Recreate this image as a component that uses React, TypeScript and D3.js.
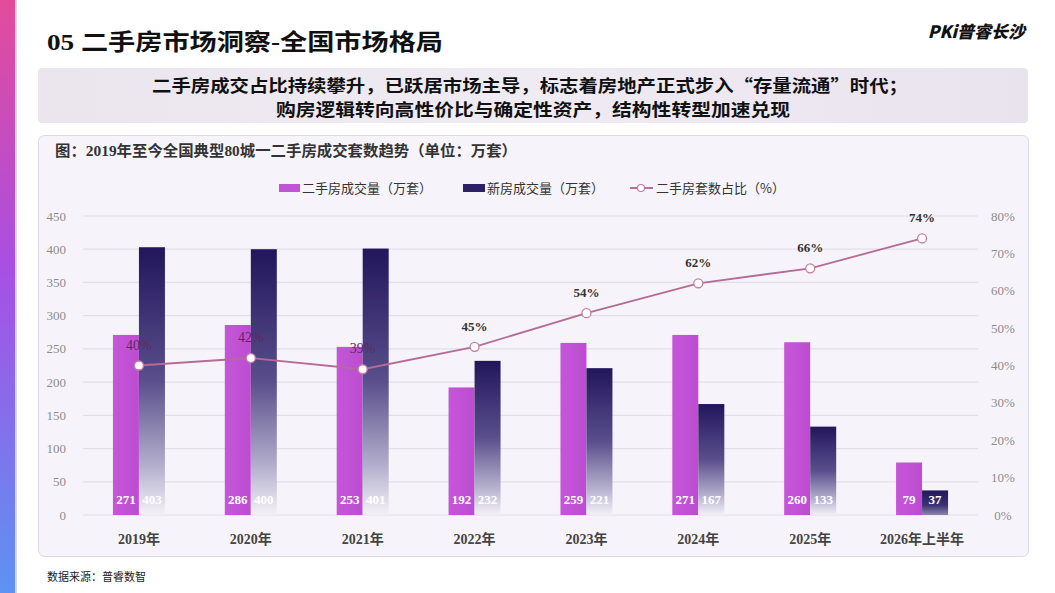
import React from "react";
import * as d3 from "d3";

const years = ["2019年", "2020年", "2021年", "2022年", "2023年", "2024年", "2025年", "2026年上半年"];
const secondHand = [271, 286, 253, 192, 259, 271, 260, 79];
const newHouse = [403, 400, 401, 232, 221, 167, 133, 37];
const ratio = [40, 42, 39, 45, 54, 62, 66, 74];
const leftTicks = [0, 50, 100, 150, 200, 250, 300, 350, 400, 450];
const rightTicks = [0, 10, 20, 30, 40, 50, 60, 70, 80];
const legendLabels = ["二手房成交量（万套）", "新房成交量（万套）", "二手房套数占比（%）"];

const W = 1055;
const H = 593;
const plot = { left: 83, right: 978, top: 216, bottom: 515 };
const SERIF = "'Liberation Serif', 'DejaVu Serif', 'Noto Sans CJK SC', serif";
const CJK = "'Noto Sans CJK SC', 'Noto Sans', sans-serif";
const MIX = "'Liberation Serif', 'Noto Sans CJK SC', serif";

export default function App() {
  const x = d3.scaleBand<string>().domain(years).range([plot.left, plot.right]).paddingInner(0).paddingOuter(0);
  const yL = d3.scaleLinear().domain([0, 450]).range([plot.bottom, plot.top]);
  const yR = d3.scaleLinear().domain([0, 80]).range([plot.bottom, plot.top]);
  const barW = 26;
  const cx = (c: string) => (x(c) as number) + x.bandwidth() / 2;
  const line = d3
    .line<number>()
    .x((_, i) => cx(years[i]))
    .y((v) => yR(v));

  return (
    <svg width={W} height={H} style={{ position: "absolute", left: 0, top: 0 }} xmlns="http://www.w3.org/2000/svg">
      <defs>
        <linearGradient id="stripe" x1="0" y1="0" x2="0" y2="1">
          <stop offset="0" stopColor="#e34b9a" />
          <stop offset="0.45" stopColor="#a84fe3" />
          <stop offset="1" stopColor="#5d93f2" />
        </linearGradient>
        <linearGradient id="band" x1="0" y1="0" x2="1" y2="0">
          <stop offset="0" stopColor="#ebe6ee" />
          <stop offset="0.5" stopColor="#efebf2" />
          <stop offset="1" stopColor="#e9e3ee" />
        </linearGradient>
        <linearGradient id="newGrad" x1="0" y1="0" x2="0" y2="1">
          <stop offset="0" stopColor="#22165c" />
          <stop offset="0.5" stopColor="#5a4f8c" />
          <stop offset="0.82" stopColor="#b5b0cd" />
          <stop offset="1" stopColor="#f3f1f7" />
        </linearGradient>
        <linearGradient id="newGradLast" x1="0" y1="0" x2="0" y2="1">
          <stop offset="0" stopColor="#22175c" />
          <stop offset="0.6" stopColor="#3c3174" />
          <stop offset="1" stopColor="#8d86ad" />
        </linearGradient>
        <linearGradient id="purpleGrad" x1="0" y1="0" x2="1" y2="0">
          <stop offset="0" stopColor="#c556d8" />
          <stop offset="1" stopColor="#bc4dd1" />
        </linearGradient>
      </defs>

      <rect x={0} y={0} width={W} height={H} fill="#ffffff" />
      <rect x={0} y={0} width={15} height={H} fill="url(#stripe)" />
      <rect x={15} y={0} width={2} height={H} fill="#d8d6dc" />

      {/* Title */}
      <text x={47} y={50} fontFamily={MIX} fontWeight={700} fontSize={23} fill="#111" textLength={396} lengthAdjust="spacingAndGlyphs">
        05 二手房市场洞察-全国市场格局
      </text>
      <text x={1025} y={38} textAnchor="end" fontFamily={CJK} fontWeight={900} fontStyle="italic" fontSize={17} fill="#111">
        PKi普睿长沙
      </text>

      {/* Header band */}
      <rect x={38} y={68} width={990} height={55} rx={4} fill="url(#band)" />
      <text x={530} y={92} textAnchor="middle" fontFamily={CJK} fontWeight={700} fontSize={17.5} fill="#111" textLength={756} lengthAdjust="spacingAndGlyphs">
        二手房成交占比持续攀升，已跃居市场主导，标志着房地产正式步入“存量流通”时代；
      </text>
      <text x={533} y={116} textAnchor="middle" fontFamily={CJK} fontWeight={700} fontSize={17.5} fill="#111" textLength={514} lengthAdjust="spacingAndGlyphs">
        购房逻辑转向高性价比与确定性资产，结构性转型加速兑现
      </text>

      {/* Chart panel */}
      <rect x={38.5} y={135.5} width={990} height={421} rx={6} fill="#f6f4fa" stroke="#dcdae2" />
      <text x={55} y={156} fontFamily={MIX} fontWeight={700} fontSize={15} fill="#333" textLength={462} lengthAdjust="spacingAndGlyphs">
        图：2019年至今全国典型80城一二手房成交套数趋势（单位：万套）
      </text>

      {/* Legend */}
      <g fontFamily={CJK} fontSize={13} fill="#333">
        <rect x={279} y={184} width={21} height={8} fill="#c054d4" />
        <text x={302} y={193}>{legendLabels[0]}</text>
        <rect x={463} y={184} width={22} height={8} fill="#2c2166" />
        <text x={487} y={193}>{legendLabels[1]}</text>
        <line x1={630} y1={188} x2={653} y2={188} stroke="#b86f98" strokeWidth={2} />
        <circle cx={641} cy={188} r={3.5} fill="#fff" stroke="#c07aa2" strokeWidth={1.2} />
        <text x={656} y={193}>{legendLabels[2]}</text>
      </g>

      {/* Gridlines */}
      {leftTicks.map((t) => (
        <line key={"g" + t} x1={plot.left} x2={plot.right} y1={yL(t)} y2={yL(t)} stroke="#e1dfe7" strokeWidth={1.2} />
      ))}

      {/* Left axis labels */}
      {leftTicks.map((t) => (
        <text key={"l" + t} x={66} y={yL(t) + 4.5} textAnchor="end" fontFamily={SERIF} fontSize={13} fill="#8c8c8c">
          {t}
        </text>
      ))}
      {/* Right axis labels */}
      {rightTicks.map((t) => (
        <text key={"r" + t} x={1003} y={yR(t) + 4.5} textAnchor="middle" fontFamily={SERIF} fontSize={13} fill="#8c8c8c">
          {t}%
        </text>
      ))}

      {/* Bars */}
      {years.map((c, i) => (
        <g key={"b" + c}>
          <rect x={cx(c) - barW} y={yL(secondHand[i])} width={barW} height={yL(0) - yL(secondHand[i])} fill="url(#purpleGrad)" />
          <rect
            x={cx(c)}
            y={yL(newHouse[i])}
            width={barW}
            height={yL(0) - yL(newHouse[i])}
            fill={i === years.length - 1 ? "url(#newGradLast)" : "url(#newGrad)"}
          />
        </g>
      ))}

      {/* Line */}
      <path d={line(ratio) || ""} fill="none" stroke="#b56b95" strokeWidth={1.8} />
      {ratio.map((v, i) => (
        <circle key={"p" + i} cx={cx(years[i])} cy={yR(v)} r={4.5} fill="#fff" stroke="#c17ea6" strokeWidth={1.3} />
      ))}
      {ratio.map((v, i) => (
        <text
          key={"pl" + i}
          x={cx(years[i])}
          y={yR(v) - 16}
          textAnchor="middle"
          fontFamily={SERIF}
          fontWeight={i < 3 ? 400 : 700}
          fontSize={i < 3 ? 14 : 13}
          fill={i < 3 ? "#5b2a63" : "#333"}
        >
          {v}%
        </text>
      ))}

      {/* Bar value labels */}
      {years.map((c, i) => (
        <g key={"v" + c} fontFamily={SERIF} fontWeight={700} fontSize={13} fill="#fff" textAnchor="middle">
          <text x={cx(c) - barW / 2} y={504}>{secondHand[i]}</text>
          <text x={cx(c) + barW / 2} y={504}>{newHouse[i]}</text>
        </g>
      ))}

      {/* Category labels */}
      {years.map((c) => (
        <text key={"c" + c} x={cx(c)} y={544} textAnchor="middle" fontFamily={MIX} fontWeight={700} fontSize={14} fill="#444">
          {c}
        </text>
      ))}

      {/* Source */}
      <text x={47} y={581} fontFamily={CJK} fontSize={11} fill="#222">
        数据来源：普睿数智
      </text>
    </svg>
  );
}
